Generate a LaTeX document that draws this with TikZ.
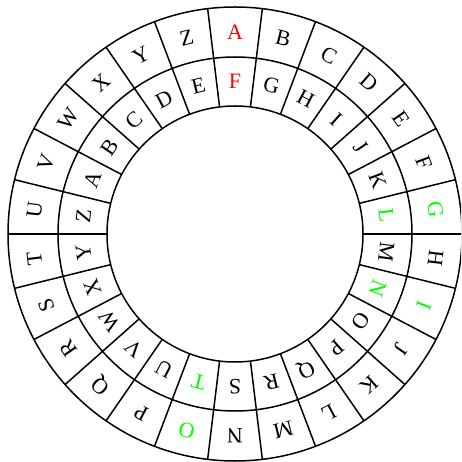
\documentclass[tikz,border=0pt]{standalone}
\usepackage{fontspec}
\setmainfont{Liberation Serif}
\definecolor{gr}{RGB}{0,255,0}
\definecolor{rd}{RGB}{255,0,0}
\tikzset{
  ring/.style={line width=1.5pt},
  letter/.style={font=\fontsize{22}{22}\selectfont, inner sep=0pt}
}
\begin{document}
\begin{tikzpicture}[x=1pt,y=1pt]
\useasboundingbox (-235,-228) rectangle (226,234);
\begin{scope}
\clip (-235,-228) rectangle (226,234);
\draw[ring] (0,0) coordinate (c) circle (227);
\draw[ring] (c) circle (177);
\draw[ring] (c) circle (128);
\foreach \k in {0,...,25}{
  \draw[ring] ({90+180/26+\k*360/26}:128) -- ({90+180/26+\k*360/26}:227);
}
\end{scope}
\foreach \o/\n/\col [count=\i from 0] in {A/F/rd,B/G/black,C/H/black,D/I/black,E/J/black,F/K/black,G/L/gr,H/M/black,I/N/gr,J/O/black,K/P/black,L/Q/black,M/R/black,N/S/black,O/T/gr,P/U/black,Q/V/black,R/W/black,S/X/black,T/Y/black,U/Z/black,V/A/black,W/B/black,X/C/black,Y/D/black,Z/E/black}{
  \pgfmathsetmacro{\ang}{90-\i*360/26}
  \node[letter, text=\col, rotate=\ang-90] (o\i) at (\ang:202) {\o};
  \node[letter, text=\col, rotate=\ang-90] (n\i) at (\ang:152.5) {\n};
}
\end{tikzpicture}
\end{document}
